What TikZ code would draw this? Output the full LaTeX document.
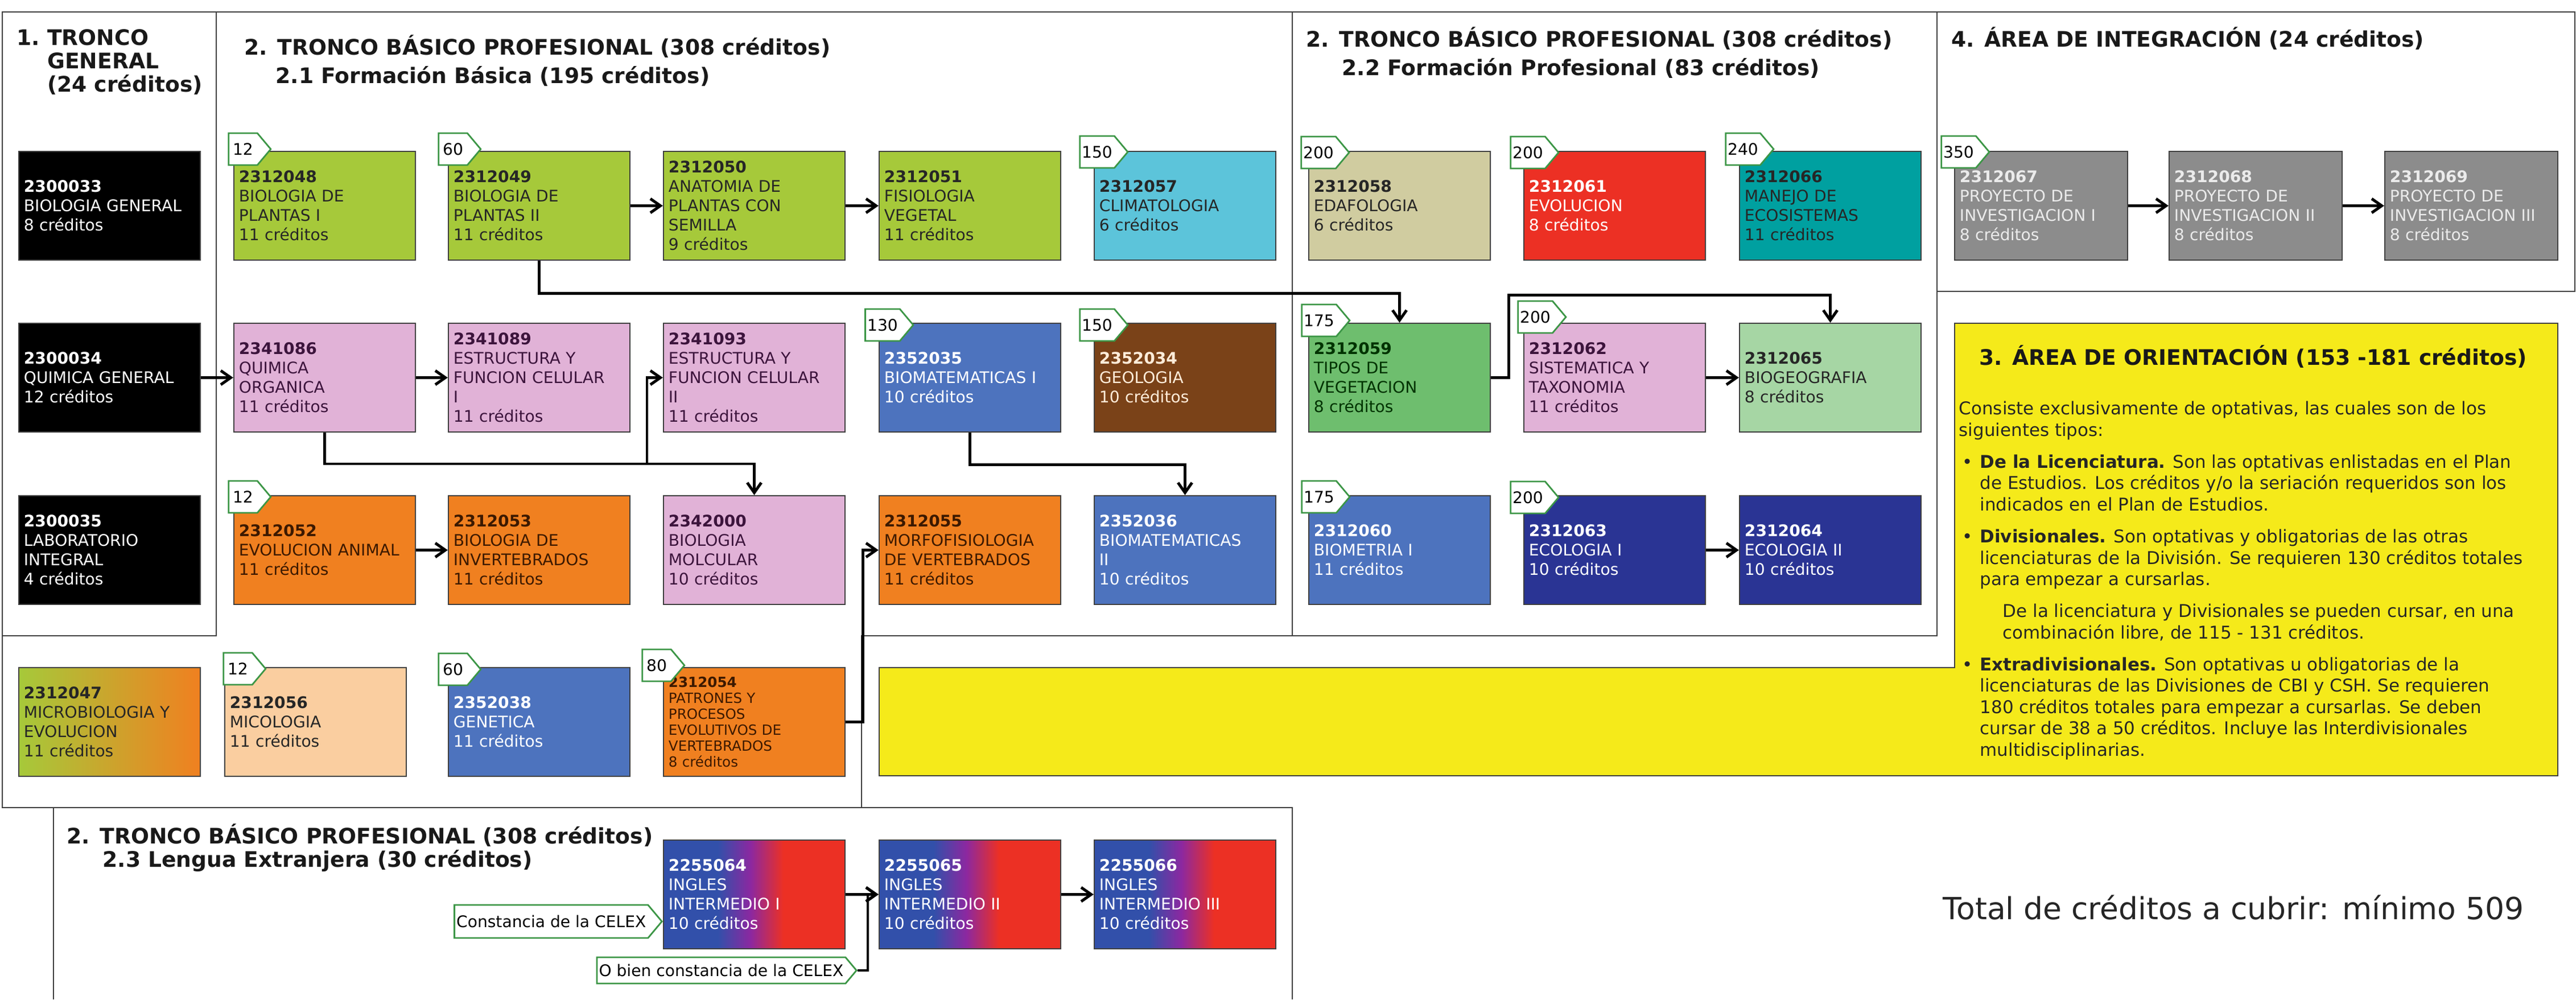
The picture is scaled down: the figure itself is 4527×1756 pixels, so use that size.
\documentclass[tikz,border=0pt]{standalone}
\usepackage{fontspec}
\setmainfont{DejaVu Sans}
\usetikzlibrary{arrows.meta,shapes.symbols}

\definecolor{verde}{RGB}{166,201,58}
\definecolor{celeste}{RGB}{92,196,218}
\definecolor{caqui}{RGB}{208,204,160}
\definecolor{rojo}{RGB}{236,48,36}
\definecolor{turquesa}{RGB}{0,160,160}
\definecolor{gris}{RGB}{140,140,140}
\definecolor{rosa}{RGB}{225,178,215}
\definecolor{azul}{RGB}{77,115,190}
\definecolor{cafe}{RGB}{122,66,24}
\definecolor{verdeb}{RGB}{110,190,110}
\definecolor{verdec}{RGB}{166,214,164}
\definecolor{naranja}{RGB}{240,128,32}
\definecolor{marino}{RGB}{42,52,148}
\definecolor{durazno}{RGB}{250,206,160}
\definecolor{amarillo}{RGB}{245,234,26}
\definecolor{marcaverde}{RGB}{60,150,70}
\definecolor{azulin}{RGB}{50,80,170}
\definecolor{moradin}{RGB}{140,40,160}
\definecolor{tmorado}{RGB}{60,20,60}
\definecolor{tcafe}{RGB}{60,25,0}

\pgfdeclarehorizontalshading{ingles}{100bp}{color(0bp)=(azulin); color(40bp)=(azulin); color(49bp)=(moradin); color(58bp)=(rojo); color(100bp)=(rojo)}

\newcommand\ficha[3]{\textbf{#1}\\#2\\#3~créditos}
\newcommand\vineta{\makebox[10.5pt][l]{\hspace{1.5pt}\textbullet}}
\newcommand\sangria{\hspace*{10.5pt}}

\tikzset{
  curso/.style={draw=black!75, line width=0.6pt, minimum height=1.91cm, text width=3.01cm,
    inner sep=0.09cm, align=left, text=black!85, font=\fontsize{8}{9.7}\selectfont},
  integ/.style={curso, text width=2.86cm, fill=gris, text=white!92!black},
  marca/.style={shape=signal, signal to=east, signal pointer angle=100, draw=marcaverde,
    line width=0.8pt, fill=white, minimum height=0.56cm, minimum width=0.74cm, inner sep=1pt,
    font=\fontsize{8}{9}\selectfont},
  titulo/.style={anchor=west, align=left, inner sep=0pt, text=black!90,
    font=\bfseries\fontsize{10.7}{11.7}\selectfont},
  marco/.style={draw=black!75, line width=0.8pt},
  flujo/.style={line width=1.4pt, -{Straight Barb[length=5pt,width=7pt]}}
}

\begin{document}
\begin{tikzpicture}[x=0.01cm,y=-0.01cm]
\useasboundingbox (0,0) rectangle (4527,1756);
\fill[white] (0,0) rectangle (4527,1756);

% marcos de las areas
\draw[marco] (4,21) rectangle (380,1117);
\draw[marco] (380,21) -- (2271,21) -- (2271,1117) -- (1514,1117) -- (1514,1419) -- (4,1419) -- (4,1117);
\draw[marco] (2271,21) rectangle (3404,1117);
\draw[marco] (3404,21) rectangle (4525,512);
\draw[marco] (94,1756) -- (94,1419) -- (2271,1419) -- (2271,1756);
\filldraw[fill=amarillo, draw=black!75, line width=0.6pt] (3435,568) -- (4495,568) -- (4495,1363)
  -- (1545,1363) -- (1545,1173) -- (3435,1173) -- cycle;

% titulos
\node[titulo] (tit1) at (29,109) {1.~TRONCO\\\hphantom{1.~}GENERAL\\\hphantom{1.~}(24 créditos)};
\node[titulo] (tit21) at (429,82) {2. TRONCO BÁSICO PROFESIONAL (308 créditos)};
\node[titulo] (sub21) at (484,134) {2.1 Formación Básica (195 créditos)};
\node[titulo] (tit22) at (2295,68) {2. TRONCO BÁSICO PROFESIONAL (308 créditos)};
\node[titulo] (sub22) at (2358,120) {2.2 Formación Profesional (83 créditos)};
\node[titulo] (tit4) at (3429,68) {4. ÁREA DE INTEGRACIÓN (24 créditos)};
\node[titulo] (tit23) at (117,1468) {2. TRONCO BÁSICO PROFESIONAL (308 créditos)};
\node[titulo] (sub23) at (180,1512) {2.3 Lengua Extranjera (30 créditos)};
\node[titulo] (tit3) at (3478,627) {3. ÁREA DE ORIENTACIÓN (153 -181 créditos)};

% fila 1
\node[curso,fill=black,text=white] (bgen) at (192.5,361.5) {\ficha{2300033}{BIOLOGIA GENERAL}{8}};
\node[curso,fill=verde] (bpl1) at (570.5,361.5) {\ficha{2312048}{BIOLOGIA DE\\PLANTAS I}{11}};
\node[curso,fill=verde] (bpl2) at (947.5,361.5) {\ficha{2312049}{BIOLOGIA DE\\PLANTAS II}{11}};
\node[curso,fill=verde] (anat) at (1325.5,361.5) {\ficha{2312050}{ANATOMIA DE\\PLANTAS CON\\SEMILLA}{9}};
\node[curso,fill=verde] (fisv) at (1704.5,361.5) {\ficha{2312051}{FISIOLOGIA\\VEGETAL}{11}};
\node[curso,fill=celeste] (clim) at (2082.5,361.5) {\ficha{2312057}{CLIMATOLOGIA}{6}};
\node[curso,fill=caqui] (edaf) at (2459.5,361.5) {\ficha{2312058}{EDAFOLOGIA}{6}};
\node[curso,fill=rojo,text=white] (evol) at (2837.5,361.5) {\ficha{2312061}{EVOLUCION}{8}};
\node[curso,fill=turquesa] (mane) at (3216.5,361.5) {\ficha{2312066}{MANEJO DE\\ECOSISTEMAS}{11}};
\node[integ] (pin1) at (3587,361.5) {\ficha{2312067}{PROYECTO DE\\INVESTIGACION I}{8}};
\node[integ] (pin2) at (3964,361.5) {\ficha{2312068}{PROYECTO DE\\INVESTIGACION II}{8}};
\node[integ] (pin3) at (4343,361.5) {\ficha{2312069}{PROYECTO DE\\INVESTIGACION III}{8}};

% fila 2
\node[curso,fill=black,text=white] (qgen) at (192.5,663.5) {\ficha{2300034}{QUIMICA GENERAL}{12}};
\node[curso,fill=rosa,text=tmorado] (qorg) at (570.5,663.5) {\ficha{2341086}{QUIMICA\\ORGANICA}{11}};
\node[curso,fill=rosa,text=tmorado] (efc1) at (947.5,663.5) {\ficha{2341089}{ESTRUCTURA Y\\FUNCION CELULAR\\I}{11}};
\node[curso,fill=rosa,text=tmorado] (efc2) at (1325.5,663.5) {\ficha{2341093}{ESTRUCTURA Y\\FUNCION CELULAR\\II}{11}};
\node[curso,fill=azul,text=white] (bmat1) at (1704.5,663.5) {\ficha{2352035}{BIOMATEMATICAS I}{10}};
\node[curso,fill=cafe,text=white!85!orange] (geol) at (2082.5,663.5) {\ficha{2352034}{GEOLOGIA}{10}};
\node[curso,fill=verdeb,text=black!80!green] (tveg) at (2459.5,663.5) {\ficha{2312059}{TIPOS DE\\VEGETACION}{8}};
\node[curso,fill=rosa,text=tmorado] (sist) at (2837.5,663.5) {\ficha{2312062}{SISTEMATICA Y\\TAXONOMIA}{11}};
\node[curso,fill=verdec] (biog) at (3216.5,663.5) {\ficha{2312065}{BIOGEOGRAFIA}{8}};

% fila 3
\node[curso,fill=black,text=white] (labi) at (192.5,966.5) {\ficha{2300035}{LABORATORIO\\INTEGRAL}{4}};
\node[curso,fill=naranja,text=tcafe] (evan) at (570.5,966.5) {\ficha{2312052}{EVOLUCION ANIMAL}{11}};
\node[curso,fill=naranja,text=tcafe] (binv) at (947.5,966.5) {\ficha{2312053}{BIOLOGIA DE\\INVERTEBRADOS}{11}};
\node[curso,fill=rosa,text=tmorado] (bmol) at (1325.5,966.5) {\ficha{2342000}{BIOLOGIA\\MOLCULAR}{10}};
\node[curso,fill=naranja,text=tcafe] (mver) at (1704.5,966.5) {\ficha{2312055}{MORFOFISIOLOGIA\\DE VERTEBRADOS}{11}};
\node[curso,fill=azul,text=white] (bmat2) at (2082.5,966.5) {\ficha{2352036}{BIOMATEMATICAS\\II}{10}};
\node[curso,fill=azul,text=white] (biom) at (2459.5,966.5) {\ficha{2312060}{BIOMETRIA I}{11}};
\node[curso,fill=marino,text=white] (eco1) at (2837.5,966.5) {\ficha{2312063}{ECOLOGIA I}{10}};
\node[curso,fill=marino,text=white] (eco2) at (3216.5,966.5) {\ficha{2312064}{ECOLOGIA II}{10}};

% fila 4
\node[curso,left color=verde,right color=naranja] (mbio) at (192.5,1268.5) {\ficha{2312047}{MICROBIOLOGIA Y\\EVOLUCION}{11}};
\node[curso,fill=durazno] (mico) at (554.5,1268.5) {\ficha{2312056}{MICOLOGIA}{11}};
\node[curso,fill=azul,text=white] (gene) at (947.5,1268.5) {\ficha{2352038}{GENETICA}{11}};
\node[curso,fill=naranja,text=tcafe,font=\fontsize{7}{8}\selectfont] (patr) at (1325.5,1268.5) {\ficha{2312054}{PATRONES Y\\PROCESOS\\EVOLUTIVOS DE\\VERTEBRADOS}{8}};

% lengua extranjera
\node[curso,shading=ingles,text=white] (ing1) at (1325.5,1571.5) {\ficha{2255064}{INGLES\\INTERMEDIO I}{10}};
\node[curso,shading=ingles,text=white] (ing2) at (1704.5,1571.5) {\ficha{2255065}{INGLES\\INTERMEDIO II}{10}};
\node[curso,shading=ingles,text=white] (ing3) at (2082.5,1571.5) {\ficha{2255066}{INGLES\\INTERMEDIO III}{10}};
\node[marca,anchor=east,minimum height=0.58cm] (cel1) at (1165,1619) {Constancia de la CELEX};
\node[marca,anchor=east,minimum height=0.46cm] (cel2) at (1507,1705) {O bien constancia de la CELEX};

% seriacion
\draw[flujo] (bpl2.east) -- (anat.west);
\draw[flujo] (anat.east) -- (fisv.west);
\draw[flujo] (pin1.east) -- (pin2.west);
\draw[flujo] (pin2.east) -- (pin3.west);
\draw[flujo] (bpl2.south) -- ++(0,57) -| (tveg.north);
\draw[flujo] (qgen.east) -- (qorg.west);
\draw[flujo] (qorg.east) -- (efc1.west);
\coordinate (nudo) at (1137,815);
\draw[flujo] (qorg.south) |- (nudo) |- (efc2.west);
\draw[flujo] (nudo) -| (bmol.north);
\draw[flujo] (bmat1.south) -- ++(0,56) -| (bmat2.north);
\draw[flujo] (tveg.east) -- ++(31,0) -- ++(0,-145) -| (biog.north);
\draw[flujo] (sist.east) -- (biog.west);
\draw[flujo] (evan.east) -- (binv.west);
\draw[flujo] (eco1.east) -- (eco2.west);
\draw[flujo] (patr.east) -- ++(30,0) |- (mver.west);
\draw[flujo] (ing1.east) -- (ing2.west);
\draw[flujo] (ing2.east) -- (ing3.west);
\draw[flujo] (cel2.east) -- ++(18,0) |- (ing2.west);

% creditos requeridos
\foreach \x/\y/\n [count=\i] in {427/262/12, 796/262/60, 1928/267/150, 2317/268/200, 2685/268/200,
  3063/262/240, 3442/267/350, 1551/571/130, 1928/571/150, 2318/563/175, 2698/557/200,
  427/873/12, 2318/873/175, 2685/874/200, 418/1175/12, 796/1176/60, 1154/1169/80}
  \node[marca] (m\i) at (\x,\y) {\n};

% area de orientacion
\node[anchor=west, align=left, inner sep=0pt, text=black!85, font=\fontsize{8.8}{10.67}\selectfont] (orient) at (3442,1020)
{Consiste exclusivamente de optativas, las cuales son de los\\
siguientes tipos:\\[5.3pt]
\vineta\textbf{De la Licenciatura.} Son las optativas enlistadas en el Plan\\
\sangria de Estudios. Los créditos y/o la seriación requeridos son los\\
\sangria indicados en el Plan de Estudios.\\[5.3pt]
\vineta\textbf{Divisionales.} Son optativas y obligatorias de las otras\\
\sangria licenciaturas de la División. Se requieren 130 créditos totales\\
\sangria para empezar a cursarlas.\\[5.3pt]
\hspace*{21.9pt}De la licenciatura y Divisionales se pueden cursar, en una\\
\hspace*{21.9pt}combinación libre, de 115 - 131 créditos.\\[5.3pt]
\vineta\textbf{Extradivisionales.} Son optativas u obligatorias de la\\
\sangria licenciaturas de las Divisiones de CBI y CSH. Se requieren\\
\sangria 180 créditos totales para empezar a cursarlas. Se deben\\
\sangria cursar de 38 a 50 créditos. Incluye las Interdivisionales\\
\sangria multidisciplinarias.};

\node[anchor=west, inner sep=0pt, text=black!85, font=\fontsize{15.2}{18}\selectfont] (total) at (3414,1594) {Total de créditos a cubrir: mínimo 509};
\end{tikzpicture}
\end{document}
